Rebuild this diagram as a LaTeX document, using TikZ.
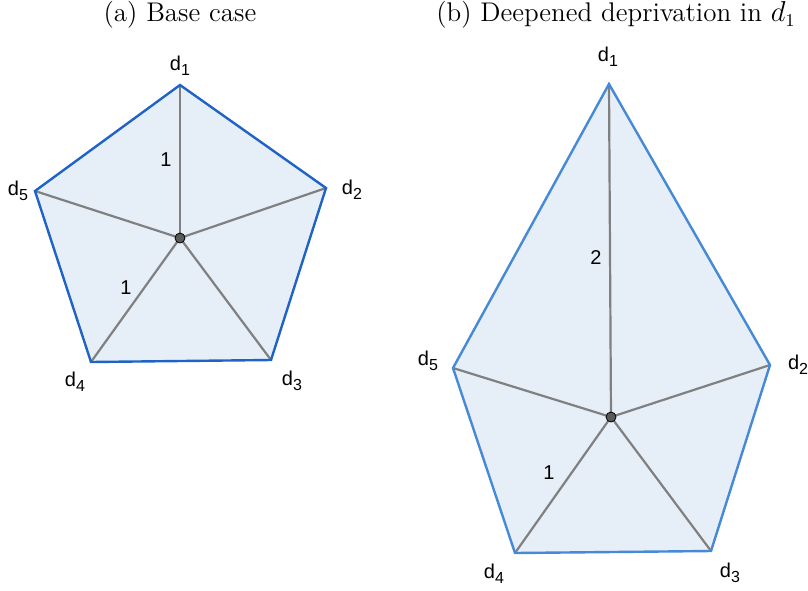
\documentclass[tikz,border=0pt]{standalone}
\usepackage{fontspec}
\newfontfamily\geofont{Liberation Sans}
\usetikzlibrary{calc}
\definecolor{edgeblue}{HTML}{1F63C6}
\definecolor{edgelight}{HTML}{4689D6}
\definecolor{areablue}{HTML}{E6EEF8}
\definecolor{spoke}{HTML}{808080}
\definecolor{hub}{HTML}{5A5A5A}
\newcommand{\dlab}[1]{d\raisebox{-0.45ex}{\footnotesize #1}}
\tikzset{
  area/.style={fill=areablue},
  rim/.style={draw=edgeblue,line width=1.2pt,line join=miter},
  rimlight/.style={rim,draw=edgelight},
  spokeline/.style={draw=spoke,line width=1.1pt},
  hubdot/.style={circle,fill=hub,draw=black,line width=.4pt,minimum size=5pt,inner sep=0pt},
  vlabel/.style={font=\geofont,inner sep=1pt},
  caption/.style={font=\fontsize{13.5}{16}\selectfont,inner sep=0pt}
}
\begin{document}
\begin{tikzpicture}[x=0.5pt,y=-0.5pt]
  \useasboundingbox (0,0) rectangle (808,590);
  % captions
  \node[caption] (capa) at (180,15) {(a) Base case};
  \node[caption] (capb) at (616,15) {(b) Deepened deprivation in $d_1$};
  % (a) base pentagon
  \coordinate (a1) at (180,85);
  \coordinate (a2) at (326,188);
  \coordinate (a3) at (271,360);
  \coordinate (a4) at (91,362);
  \coordinate (a5) at (35,191);
  \coordinate (ac) at (180,238);
  \fill[area] (a1)--(a2)--(a3)--(a4)--(a5)--cycle;
  \foreach \i in {1,...,5}{\draw[spokeline] (ac)--(a\i);}
  \draw[rim] (a1)--(a2)--(a3)--(a4)--(a5)--cycle;
  \node[hubdot] (hubA) at (ac) {};
  \foreach \i/\p in {1/{180,66},2/{352,190},3/{292,381},4/{75,382},5/{18,191}}{
    \node[vlabel] (la\i) at (\p) {\dlab{\i}};
  }
  \node[vlabel] (wa1) at (166,160) {1};
  \node[vlabel] (wa4) at (126,288) {1};
  % (b) deepened in d1
  \coordinate (b1) at (609,84);
  \coordinate (b2) at (770,365);
  \coordinate (b3) at (711,551);
  \coordinate (b4) at (515,553);
  \coordinate (b5) at (453,368);
  \coordinate (bc) at (611,417);
  \fill[area] (b1)--(b2)--(b3)--(b4)--(b5)--cycle;
  \foreach \i in {1,...,5}{\draw[spokeline] (bc)--(b\i);}
  \draw[rimlight] (b1)--(b2)--(b3)--(b4)--(b5)--cycle;
  \node[hubdot] (hubB) at (bc) {};
  \foreach \i/\p in {1/{608,57},2/{798,365},3/{730,573},4/{494,574},5/{428,361}}{
    \node[vlabel] (lb\i) at (\p) {\dlab{\i}};
  }
  \node[vlabel] (wb1) at (596,258) {2};
  \node[vlabel] (wb4) at (549,473) {1};
\end{tikzpicture}
\end{document}
